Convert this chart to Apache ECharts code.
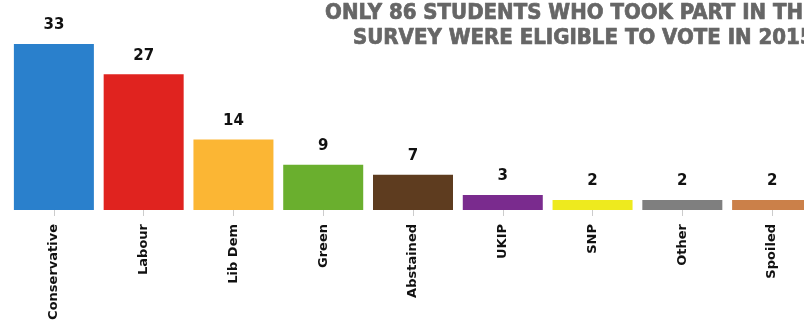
<!DOCTYPE html>
<html>
<head>
<meta charset="utf-8">
<script src="https://cdn.jsdelivr.net/npm/echarts@6/dist/echarts.min.js"></script>
<style>
html,body{margin:0;padding:0;background:#fff;}
#c{width:804px;height:324px;}
</style>
</head>
<body>
<div id="c"></div>
<script>
const categories = ['Conservative','Labour','Lib Dem','Green','Abstained','UKIP','SNP','Other','Spoiled'];
const values = [33, 27, 14, 9, 7, 3, 2, 2, 2];
const colors = ['#2a80cc','#e0231f','#fbb634','#6aaf2e','#5e3c1f','#7a2b8e','#eeea1e','#7f7f7f','#cb8049'];
const titleLines = ['ONLY 86 STUDENTS WHO TOOK PART IN THE','SURVEY WERE ELIGIBLE TO VOTE IN 2015'];
const titleRight = [-13, -10];

const chart = echarts.init(document.getElementById('c'), null, {renderer:'canvas'});
chart.setOption({
  animation: false,
  backgroundColor: '#fff',
  graphic: titleLines.map((t, i) => ({
    type: 'text',
    right: titleRight[i],
    top: 2 + i * 25,
    style: {
      text: t,
      align: 'right',
      font: 'bold 22px "DejaVu Sans Condensed"',
      fill: '#666666',
      stroke: '#666666',
      lineWidth: 0.7
    }
  })),
  grid: { left: 9, width: 808, top: 44, bottom: 114, containLabel: false, outerBoundsMode: 'none' },
  xAxis: {
    type: 'category',
    data: categories,
    axisLine: { show: false },
    axisTick: { show: true, alignWithLabel: true, length: 6, lineStyle: { color: '#cccccc' } },
    axisLabel: {
      rotate: 90,
      margin: 14,
      fontFamily: 'DejaVu Sans',
      fontWeight: 'bold',
      fontSize: 13,
      color: '#111'
    }
  },
  yAxis: {
    type: 'value', min: 0, max: 33, show: false,
    splitLine: { show: false }
  },
  series: [{
    type: 'bar',
    data: values.map((v, i) => ({ value: v, itemStyle: { color: colors[i] } })),
    barWidth: 80,
    label: {
      show: true,
      position: 'top',
      distance: 11,
      fontFamily: 'DejaVu Sans',
      fontWeight: 'bold',
      fontSize: 15,
      color: '#111'
    }
  }]
});
</script>
</body>
</html>
